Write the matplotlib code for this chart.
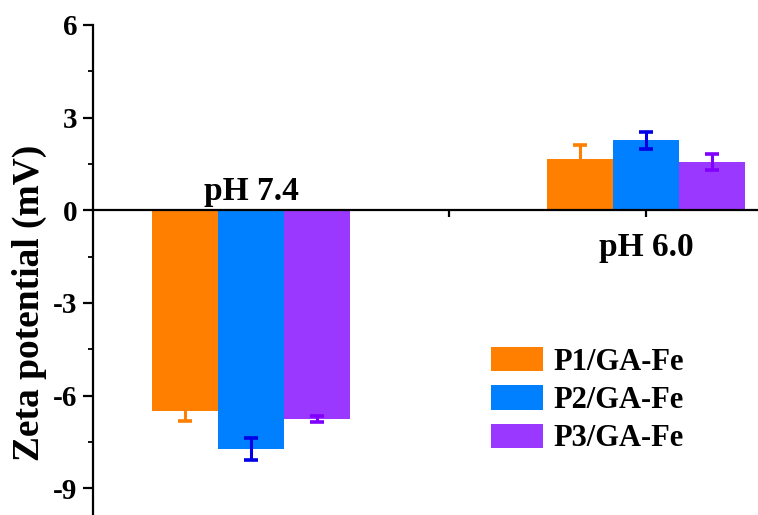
import matplotlib
matplotlib.use("Agg")
import matplotlib.pyplot as plt
from matplotlib.ticker import MultipleLocator
import numpy as np

plt.rcParams['font.family'] = ['Liberation Serif', 'DejaVu Serif']
plt.rcParams['font.weight'] = 'bold'
plt.rcParams['axes.unicode_minus'] = False

groups = ["pH 7.4", "pH 6.0"]
group_pos = [1, 3]
series = ["P1/GA-Fe", "P2/GA-Fe", "P3/GA-Fe"]
values = {
    "P1/GA-Fe": [-6.49, 1.66],
    "P2/GA-Fe": [-7.73, 2.27],
    "P3/GA-Fe": [-6.75, 1.56],
}
errors = {
    "P1/GA-Fe": [0.33, 0.45],
    "P2/GA-Fe": [0.37, 0.28],
    "P3/GA-Fe": [0.10, 0.26],
}
bar_colors = ["#FF8000", "#0080FF", "#9B38FF"]
err_colors = ["#FF8000", "#0000E6", "#8000FF"]

W, H = 758, 515
fig = plt.figure(figsize=(W / 100, H / 100), dpi=100)
ax = fig.add_axes([93 / W, 0.0, 1 - 93 / W, 1 - 25 / H])

width = 0.33
offsets = [-0.334, 0.0, 0.334]
handles = []
for i, s in enumerate(series):
    x = np.array(group_pos) + offsets[i]
    b = ax.bar(x, values[s], width=width, color=bar_colors[i], edgecolor='none', label=s, zorder=2)
    handles.append(b)
    ax.errorbar(x, values[s], yerr=errors[s], fmt='none', ecolor=err_colors[i],
                elinewidth=2.2, capsize=5, capthick=2.6, zorder=3)

ax.set_xlim(0.2, 3.567)
ax.set_ylim(-9.87, 6)
ax.yaxis.set_major_locator(MultipleLocator(3))
ax.yaxis.set_minor_locator(MultipleLocator(1.5))
ax.set_xticks([1, 2, 3])
ax.set_xticklabels([])
ax.spines['top'].set_visible(False)
ax.spines['right'].set_visible(False)
ax.spines['bottom'].set_position(('data', 0))
ax.spines['left'].set_linewidth(1.6)
ax.spines['bottom'].set_linewidth(1.6)
ax.tick_params(axis='y', which='major', direction='out', length=7.5, width=1.6, labelsize=21, pad=4)
ax.tick_params(axis='y', which='minor', direction='out', length=3.8, width=1.3)
ax.tick_params(axis='x', which='major', direction='out', length=5, width=1.6)
for lab in ax.get_yticklabels():
    lab.set_fontweight('bold')

ax.set_ylabel("Zeta potential (mV)", fontsize=27, fontweight='bold')
ax.yaxis.set_label_coords((29 - 93) / (W - 93), 1 - (303 - 25) / (H - 25))
ax.yaxis.label.set_va('center')

ax.text(1, 0.12, groups[0], ha='center', va='bottom', fontsize=24, fontweight='bold')
ax.text(3, -0.72, groups[1], ha='center', va='top', fontsize=24, fontweight='bold')

leg = fig.legend(handles=handles, labels=series, loc='upper left',
                 bbox_to_anchor=(491 / W, 1 - 347 / H),
                 frameon=False, fontsize=22, handlelength=1.7, handleheight=0.85,
                 handletextpad=0.35, labelspacing=0.28, borderaxespad=0, borderpad=0)
for t in leg.get_texts():
    t.set_fontweight('bold')

fig.savefig("out.png", dpi=100)
